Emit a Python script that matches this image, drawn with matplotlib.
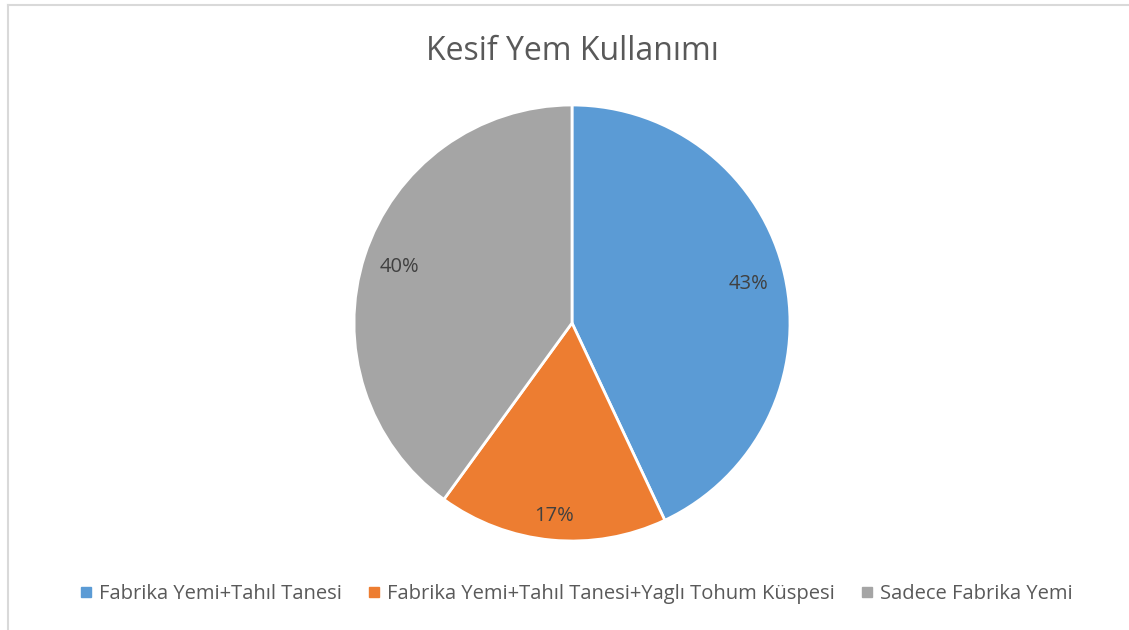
import numpy as np
import matplotlib
matplotlib.use("Agg")
import matplotlib.pyplot as plt
from matplotlib.lines import Line2D

title = "Kesif Yem Kullanımı"
categories = ["Fabrika Yemi+Tahıl Tanesi",
              "Fabrika Yemi+Tahıl Tanesi+Yaglı Tohum Küspesi",
              "Sadece Fabrika Yemi"]
values = [43, 17, 40]
colors = ["#5B9BD5", "#ED7D31", "#A5A5A5"]
label_dist = [0.83, 0.89, 0.83]

text_color = "#595959"
plt.rcParams['font.family'] = ['Open Sans', 'DejaVu Sans']

W, H = 1129, 630
fig = plt.figure(figsize=(W / 100, H / 100), dpi=100)
fig.patch.set_facecolor("white")

# border lines (top and left)
fig.add_artist(Line2D([8 / W, 1], [1 - 5 / H, 1 - 5 / H], color="#D9D9D9", lw=1.5))
fig.add_artist(Line2D([8 / W, 8 / W], [0, 1 - 5 / H], color="#D9D9D9", lw=1.5))

cx, cy, r = 572, 323, 218
ax = fig.add_axes([(cx - r) / W, (H - cy - r) / H, 2 * r / W, 2 * r / H])
wedges, _ = ax.pie(values, colors=colors, startangle=90, counterclock=False,
                   radius=1, wedgeprops=dict(edgecolor="white", linewidth=2))
ax.set_xlim(-1, 1)
ax.set_ylim(-1, 1)
ax.set_aspect("equal")
ax.axis("off")

for w, v, d in zip(wedges, values, label_dist):
    ang = np.deg2rad((w.theta1 + w.theta2) / 2)
    ax.text(d * np.cos(ang), d * np.sin(ang), f"{v}%", ha="center", va="center",
            fontsize=14.5, color="#404040")

fig.text(cx / W, 1 - 51 / H, title, ha="center", va="center", fontsize=23, color=text_color)

handles = [Line2D([], [], marker="s", linestyle="none", markersize=6.5,
                  markerfacecolor=c, markeredgecolor=c) for c in colors]
fig.legend(handles, categories, loc="center", bbox_to_anchor=(577 / W, 1 - 594 / H),
           ncol=3, frameon=False, fontsize=14.5, labelcolor=text_color,
           handlelength=0.5, handletextpad=0.4, columnspacing=1.35)

fig.savefig("out.png", dpi=100)
